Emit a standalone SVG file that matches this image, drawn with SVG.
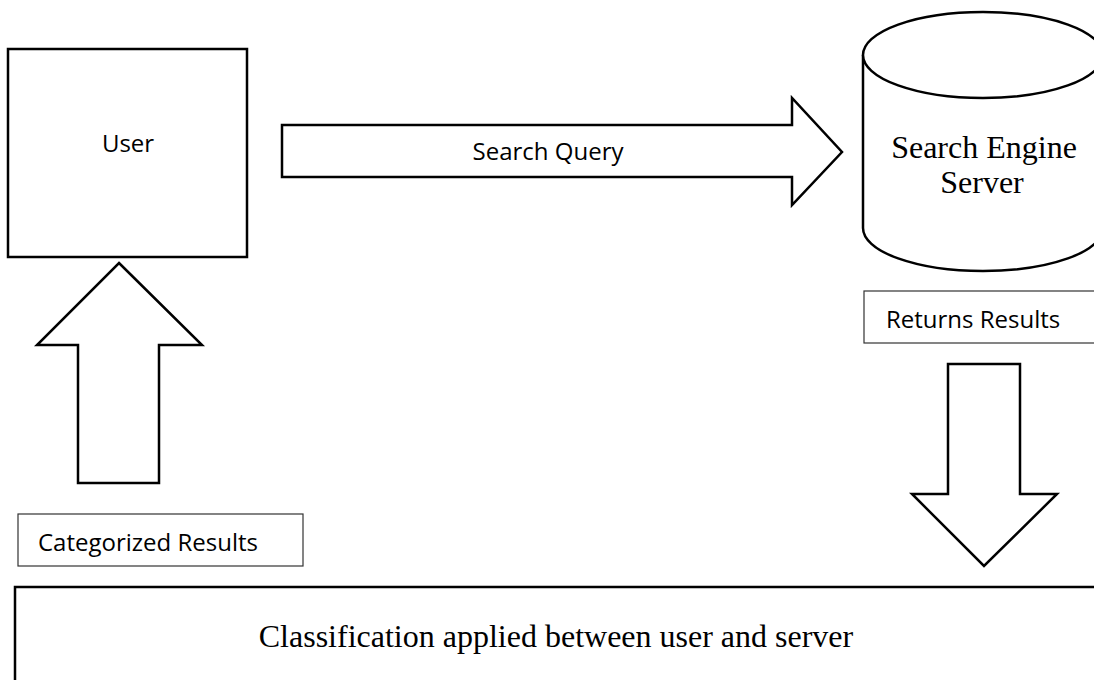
<svg xmlns="http://www.w3.org/2000/svg" width="1094" height="680" viewBox="0 0 1094 680">
<style>
.shape{fill:#fff;stroke:#000;stroke-width:2.5;stroke-linejoin:miter}
.thin{fill:#fff;stroke:#333;stroke-width:1.2}
.sans{font-family:"Open Sans","Noto Sans","Liberation Sans",sans-serif;font-size:24px;fill:#000}
.serif{font-family:"Liberation Serif","Times New Roman",serif;font-size:32px;fill:#000}
</style>
<rect width="1094" height="680" fill="#fff"/>
<g id="user">
<rect class="shape" x="8" y="49" width="239" height="208"/>
<text class="sans" x="128" y="152" text-anchor="middle">User</text>
</g>
<g id="server">
<path class="shape" stroke-width="2" d="M863,55 L863,228 A120,43 0 0 0 1103,228 L1103,55"/>
<ellipse class="shape" stroke-width="2" cx="983" cy="55" rx="120" ry="43"/>
<text class="serif" x="984" y="158" text-anchor="middle">Search Engine</text>
<text class="serif" x="982" y="193" text-anchor="middle">Server</text>
</g>
<g id="returns-label">
<rect class="thin" x="864" y="291" width="232" height="52"/>
<text class="sans" x="886" y="328">Returns Results</text>
</g>
<g id="categorized-label">
<rect class="thin" x="18" y="514" width="285" height="52"/>
<text class="sans" x="38" y="551">Categorized Results</text>
</g>
<g id="classification">
<rect class="shape" stroke-width="3" x="15" y="587" width="1095" height="110"/>
<text class="serif" x="556" y="647" text-anchor="middle">Classification applied between user and server</text>
</g>
<g id="connectors">
<g id="search-query">
<polygon class="shape" points="282,125 792,125 792,98 842,152 792,205 792,177 282,177"/>
<text class="sans" x="548" y="160" text-anchor="middle">Search Query</text>
</g>
<polygon id="returns-arrow" class="shape" points="948,364 1020,364 1020,494 1057,494 984,566 912,494 948,494"/>
<polygon id="categorized-arrow" class="shape" points="119,263 202,345 159,345 159,483 78,483 78,345 37,345"/>
</g>
</svg>
